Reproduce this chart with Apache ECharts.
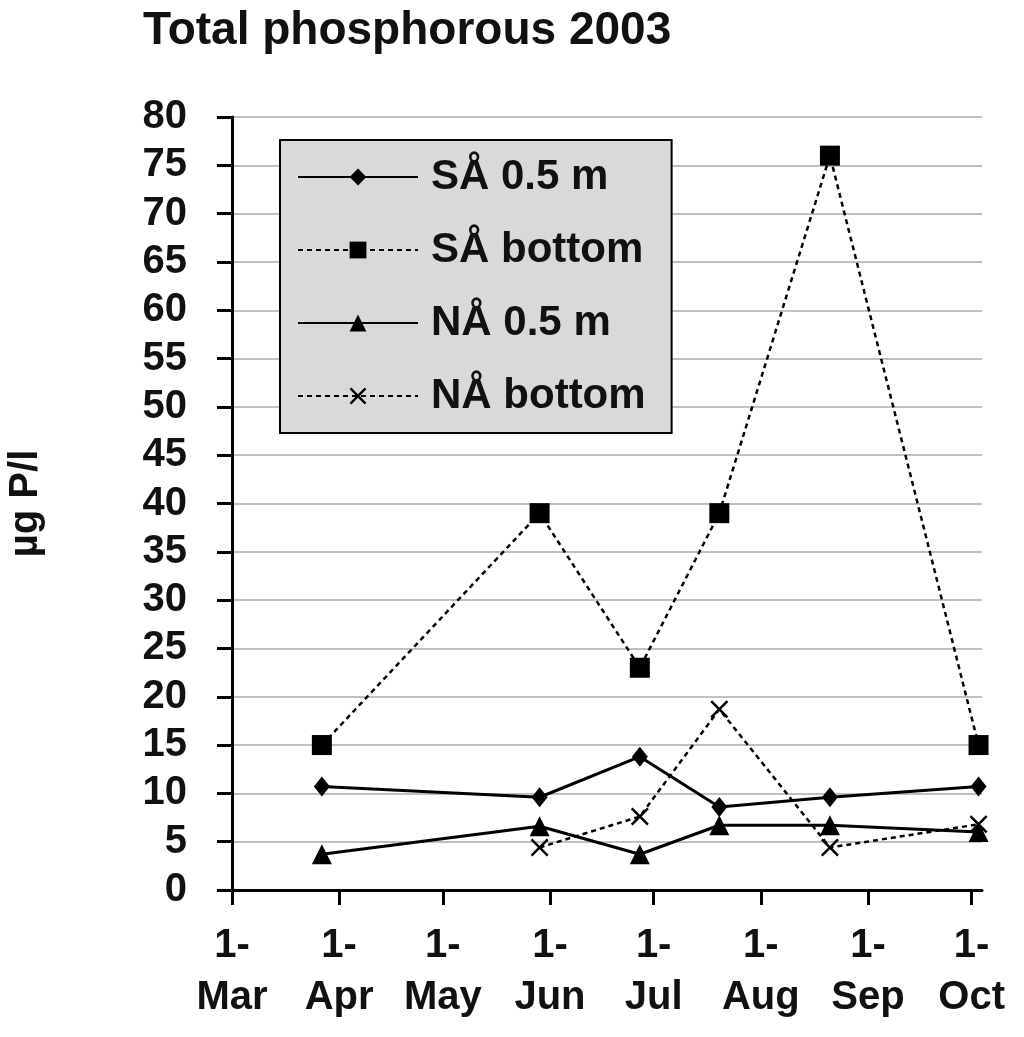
<!DOCTYPE html>
<html>
    <head>
        <meta charset="utf-8">
        <title>Total phosphorous 2003</title>
        <script src="https://cdn.jsdelivr.net/npm/echarts@6/dist/echarts.min.js"></script>
        <style>
            html, body { margin: 0; padding: 0; background: #fff; }
            #div_graph { width: 1024px; height: 1037px; }
        </style>
    </head>
    <body>
        <div id="div_graph"></div>
        <script>
            // sampling dates and values (µg P/l)
            var sampleDates = ['2003-03-27', '2003-05-29', '2003-06-27', '2003-07-20', '2003-08-21', '2003-10-03'];
            var saSurface = [10.7, 9.6, 13.8, 8.6, 9.6, 10.7];
            var saBottom = [15, 39, 23, 39, 76, 15];
            var naSurface = [3.7, 6.6, 3.7, 6.7, 6.7, 6.0];
            var naBottom = [null, 4.4, 7.6, 18.7, 4.4, 6.8];
            var seriesNames = ['SÅ 0.5 m', 'SÅ bottom', 'NÅ 0.5 m', 'NÅ bottom'];
            var monthLabels = ['Jan', 'Feb', 'Mar', 'Apr', 'May', 'Jun', 'Jul', 'Aug', 'Sep', 'Oct', 'Nov', 'Dec'];

            var DAY = 24 * 3600 * 1000;
            var FONT = '"Liberation Sans", Arial, sans-serif';
            var crossPath = 'path://M0,1L1,0L5,4L9,0L10,1L6,5L10,9L9,10L5,6L1,10L0,9L4,5Z';

            function pairs(values) {
                var out = [];
                for (var i = 0; i < values.length; i++) {
                    if (values[i] !== null) out.push([sampleDates[i], values[i]]);
                }
                return out;
            }

            var chart = echarts.init(document.getElementById('div_graph'));
            var option = {
                backgroundColor: '#fff',
                animation: false,
                textStyle: { fontFamily: FONT },
                title: {
                    text: 'Total phosphorous 2003',
                    left: 138,
                    top: 3,
                    textStyle: { fontFamily: FONT, fontSize: 46, fontWeight: 'bold', color: '#111' }
                },
                legend: {
                    orient: 'vertical',
                    left: 280,
                    top: 140,
                    padding: [12, 26, 12, 17],
                    backgroundColor: '#d9d9d9',
                    borderColor: '#000',
                    borderWidth: 2,
                    itemWidth: 120,
                    itemHeight: 21,
                    itemGap: 23,
                    data: seriesNames,
                    textStyle: {
                        fontFamily: FONT, fontSize: 42, fontWeight: 'bold', color: '#111',
                        lineHeight: 50, padding: [0, 0, 0, 8]
                    }
                },
                grid: {
                    left: 232,
                    right: 42,
                    top: 117,
                    bottom: 147,
                    outerBoundsMode: 'none'
                },
                xAxis: {
                    type: 'time',
                    min: new Date(2003, 2, 1).getTime(),
                    max: new Date(2003, 9, 4).getTime(),
                    minInterval: 28 * DAY,
                    maxInterval: 31 * DAY,
                    splitLine: { show: false },
                    axisLine: { lineStyle: { color: '#000', width: 3 } },
                    axisTick: { show: true, length: 15, lineStyle: { color: '#000', width: 3 } },
                    axisLabel: {
                        margin: 30,
                        fontSize: 40,
                        fontWeight: 'bold',
                        lineHeight: 52,
                        color: '#111',
                        fontFamily: FONT,
                        showMaxLabel: false,
                        formatter: function (v) {
                            var d = new Date(v);
                            if (d.getDate() !== 1) return '';
                            return '1-\n' + monthLabels[d.getMonth()];
                        }
                    }
                },
                yAxis: {
                    type: 'value',
                    min: 0,
                    max: 80,
                    interval: 5,
                    name: 'µg P/l',
                    nameLocation: 'middle',
                    nameRotate: 90,
                    nameGap: 186,
                    nameTextStyle: { fontFamily: FONT, fontSize: 40, fontWeight: 'bold', color: '#111' },
                    axisLine: { show: true, lineStyle: { color: '#000', width: 3 } },
                    axisTick: { show: true, length: 15, lineStyle: { color: '#000', width: 3 } },
                    axisLabel: { margin: 45, fontSize: 40, fontWeight: 'bold', color: '#111', fontFamily: FONT },
                    splitLine: { lineStyle: { color: '#c0c0c0', width: 2 } }
                },
                series: [
                    {
                        name: seriesNames[0], type: 'line', data: pairs(saSurface),
                        symbol: 'diamond', symbolSize: [16, 20],
                        itemStyle: { color: '#000' },
                        lineStyle: { color: '#000', width: 3 }
                    },
                    {
                        name: seriesNames[1], type: 'line', data: pairs(saBottom),
                        symbol: 'rect', symbolSize: 20,
                        itemStyle: { color: '#000' },
                        lineStyle: { color: '#000', width: 2.5, type: [5, 4] }
                    },
                    {
                        name: seriesNames[2], type: 'line', data: pairs(naSurface),
                        symbol: 'triangle', symbolSize: 20,
                        itemStyle: { color: '#000' },
                        lineStyle: { color: '#000', width: 3 }
                    },
                    {
                        name: seriesNames[3], type: 'line', data: pairs(naBottom),
                        symbol: crossPath, symbolSize: 18,
                        itemStyle: { color: '#000' },
                        lineStyle: { color: '#000', width: 2.5, type: [5, 4] }
                    }
                ]
            };
            chart.setOption(option);
        </script>
    </body>
</html>
